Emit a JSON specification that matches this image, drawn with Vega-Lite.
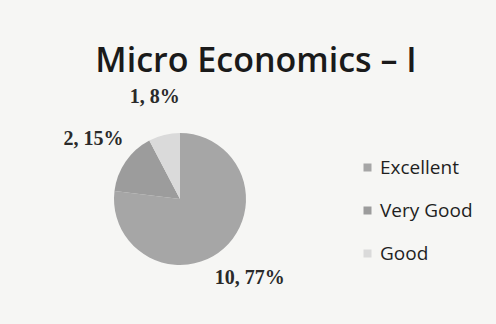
{
  "$schema": "https://vega.github.io/schema/vega-lite/v6.json",
  "width": 260,
  "height": 240,
  "autosize": "none",
  "padding": {"left": 50, "top": 79, "right": 186, "bottom": 5},
  "background": "#f6f6f4",
  "title": {
    "text": "Micro Economics – I",
    "font": "Open Sans",
    "fontSize": 34,
    "fontWeight": 600,
    "color": "#1a1a1a",
    "anchor": "middle",
    "dx": 76,
    "offset": 0
  },
  "data": {
    "values": [
      {"rating": "Excellent", "count": 10, "label": "10, 77%", "order": 1},
      {"rating": "Very Good", "count": 2, "label": "2, 15%", "order": 2},
      {"rating": "Good", "count": 1, "label": "1, 8%", "order": 3}
    ]
  },
  "encoding": {
    "theta": {"field": "count", "type": "quantitative", "stack": true},
    "order": {"field": "order", "type": "quantitative"}
  },
  "layer": [
    {
      "mark": {"type": "arc", "outerRadius": 66},
      "encoding": {
        "color": {
          "field": "rating",
          "type": "nominal",
          "sort": ["Excellent", "Very Good", "Good"],
          "scale": {"domain": ["Excellent", "Very Good", "Good"], "range": ["#a6a6a6", "#9c9c9c", "#dadada"]},
          "legend": {
            "title": null,
            "orient": "none",
            "legendX": 308,
            "legendY": 79,
            "symbolType": "square",
            "symbolSize": 64,
            "labelFont": "Open Sans",
            "labelFontSize": 19,
            "labelColor": "#1f1f1f",
            "labelOffset": 3,
            "rowPadding": 23
          }
        }
      }
    },
    {
      "mark": {"type": "text", "radius": 105, "font": "Liberation Serif", "fontSize": 20, "fontWeight": "bold", "color": "#2a2a2a"},
      "encoding": {"text": {"field": "label"}}
    }
  ]
}
